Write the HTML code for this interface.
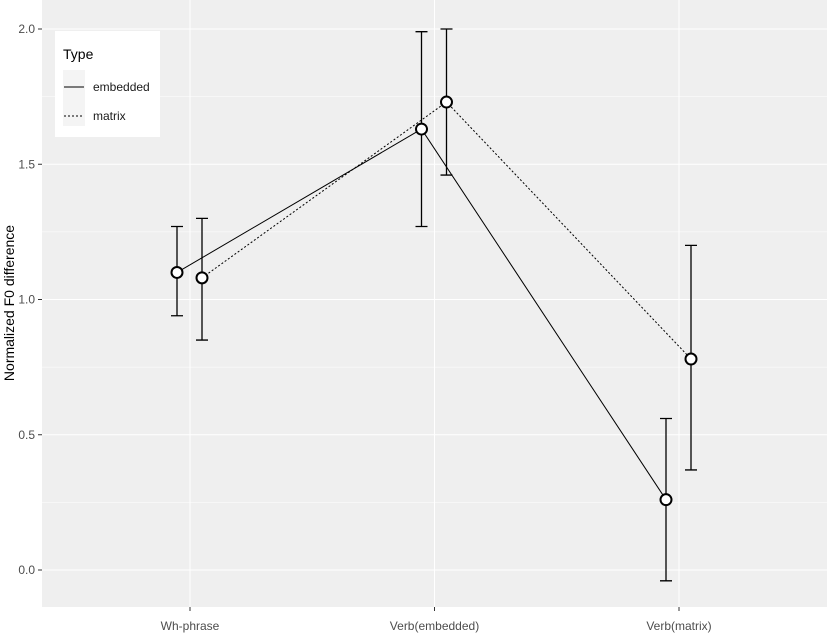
<!DOCTYPE html>
<html><head><meta charset="utf-8"><style>
body{margin:0;background:#fff;}
svg{display:block;font-family:"Liberation Sans",sans-serif;}
</style></head><body>
<svg id="chart" width="827" height="634">
<rect x="42" y="0" width="785" height="607" fill="#efefef"/>
<g id="grid"></g>
<g id="axes"></g>
<g id="series"></g>
<text transform="translate(14,303) rotate(-90)" text-anchor="middle" font-size="14" fill="#000">Normalized F0 difference</text>
<g>
<rect x="55" y="31" width="105" height="106" fill="#fff"/>
<text x="63" y="59" font-size="14" fill="#000">Type</text>
<rect x="63" y="70" width="22" height="56" fill="#f4f4f4"/>
<line x1="64" y1="87" x2="84" y2="87" stroke="#000" stroke-width="1"/>
<text x="93" y="91" font-size="12" fill="#1a1a1a">embedded</text>
<line x1="64" y1="116" x2="84" y2="116" stroke="#000" stroke-width="1" stroke-dasharray="2,2"/>
<text x="93" y="120" font-size="12" fill="#1a1a1a">matrix</text>
</g>
</svg>
<script>
const categories=["Wh-phrase","Verb(embedded)","Verb(matrix)"];
const embeddedMean=[1.10,1.63,0.26];
const embeddedLow=[0.94,1.27,-0.04];
const embeddedHigh=[1.27,1.99,0.56];
const matrixMean=[1.08,1.73,0.78];
const matrixLow=[0.85,1.46,0.37];
const matrixHigh=[1.30,2.00,1.20];
const yTicks=[0,0.5,1.0,1.5,2.0];
const yTickLabels=["0.0","0.5","1.0","1.5","2.0"];

const NS="http://www.w3.org/2000/svg";
function y(v){return 570-270.5*v;}
function x(i){return 190+244.5*i;}
function mk(tag,attrs,parent){const e=document.createElementNS(NS,tag);for(const k in attrs)e.setAttribute(k,attrs[k]);parent.appendChild(e);return e;}
const grid=document.getElementById('grid'),axes=document.getElementById('axes'),ser=document.getElementById('series');
for(let i=0;i<yTicks.length-1;i++){
 const m=(yTicks[i]+yTicks[i+1])/2;
 const g=mk('line',{x1:42,x2:827,y1:y(m),y2:y(m),stroke:'#fff','stroke-width':0.5},grid);
 
 
}
yTicks.forEach((t,i)=>{
 const g=mk('line',{x1:42,x2:827,y1:y(t),y2:y(t),stroke:'#fff','stroke-width':1},grid);
 
 
 mk('line',{x1:38,x2:42,y1:y(t),y2:y(t),stroke:'#333'},axes);
 const tx=mk('text',{x:35,y:y(t)+4,'text-anchor':'end','font-size':12,fill:'#4d4d4d'},axes);
 tx.textContent=yTickLabels[i];
 
 
});
categories.forEach((c,i)=>{
 const g=mk('line',{x1:x(i),x2:x(i),y1:0,y2:607,stroke:'#fff','stroke-width':1},grid);
 
 
 mk('line',{x1:x(i),x2:x(i),y1:607,y2:611,stroke:'#333'},axes);
 const tx=mk('text',{x:x(i),y:630,'text-anchor':'middle','font-size':12,fill:'#4d4d4d'},axes);
 tx.textContent=c;
 
 
});
function drawSeries(name,mean,lo,hi,off,dash){
 const pts=mean.map((v,i)=>(x(i)+off)+','+y(v)).join(' ');
 const pl=mk('polyline',{points:pts,fill:'none',stroke:'#000','stroke-width':1,'stroke-dasharray':dash},ser);
 
 
 mean.forEach((v,i)=>{
  const cx=x(i)+off;
  const eb=mk('path',{d:`M${cx-6},${y(hi[i])}H${cx+6}M${cx},${y(hi[i])}V${y(lo[i])}M${cx-6},${y(lo[i])}H${cx+6}`,stroke:'#000','stroke-width':1.3,fill:'none'},ser);
  
  
 });
 mean.forEach((v,i)=>{
  const p=mk('circle',{cx:x(i)+off,cy:y(v),r:5.5,fill:'#fff',stroke:'#000','stroke-width':2},ser);
  
  
 });
}
drawSeries('embedded',embeddedMean,embeddedLow,embeddedHigh,-13,'none');
drawSeries('matrix',matrixMean,matrixLow,matrixHigh,12,'2,2');
</script>
</body></html>
